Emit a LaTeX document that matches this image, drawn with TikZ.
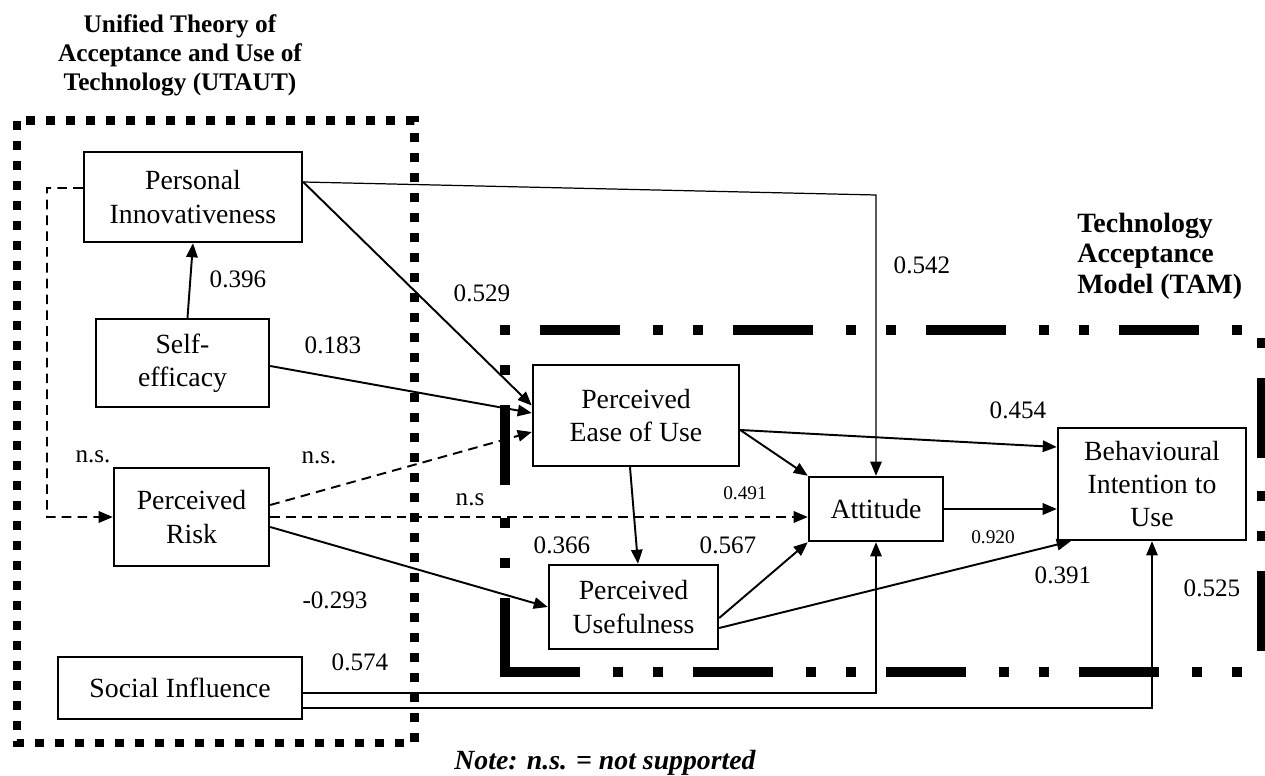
\documentclass[tikz,border=0pt]{standalone}
\usepackage{fontspec}
\setmainfont{Liberation Serif}
\usetikzlibrary{arrows.meta}

\begin{document}
\begin{tikzpicture}[x=0.02cm, y=-0.02cm,
box/.style={draw, rectangle, line width=1.4pt, align=center, inner sep=0pt, font=\fontsize{15.8}{18.8}\selectfont},
lbl/.style={inner sep=0pt, font=\fontsize{14.3}{16}\selectfont},
slbl/.style={inner sep=0pt, font=\fontsize{11}{12}\selectfont},
ttl/.style={inner sep=0pt, font=\bfseries\fontsize{14.4}{16.5}\selectfont},
arr/.style={-{Triangle[length=8pt,width=6.5pt]}, line width=1.1pt},
thinarr/.style={-{Triangle[length=8pt,width=6.5pt]}, line width=0.7pt},
nsarr/.style={arr, dash pattern=on 5.5pt off 3.5pt},
tamline/.style={line width=0.2cm, dash pattern=on 1.6cm off 0.66cm on 0.2cm off 0.6cm on 0.2cm off 0.6cm}]

\useasboundingbox (0,0) rectangle (1265,776);

% the two frames
\draw[line width=0.18cm, dash pattern=on 0.18cm off 0.22cm] (17,121) rectangle (414,743);
\draw[tamline, dash phase=3.06cm] (500,330) -- (1265,330);
\draw[tamline, dash phase=2.26cm] (505,325) -- (505,677);
\draw[tamline] (500,672) -- (1265,672);
\draw[tamline, dash phase=2.8cm] (1262,325) -- (1262,677);

\node[ttl, align=center] (utaut) at (180,55) {Unified Theory of\\Acceptance and Use of\\Technology (UTAUT)};
\node[ttl, align=left, anchor=west, font=\bfseries\fontsize{15.9}{17.4}\selectfont] (tam) at (1077,256) {Technology\\Acceptance\\Model (TAM)};

\node[box, minimum width=4.36cm, minimum height=1.8cm] (pi) at (193,197) {Personal\\Innovativeness};
\node[box, minimum width=3.46cm, minimum height=1.76cm] (se) at (182.5,363) {Self-\\efficacy};
\node[box, minimum width=3.1cm, minimum height=1.96cm] (pr) at (191.5,517) {Perceived\\Risk};
\node[box, minimum width=4.88cm, minimum height=1.24cm] (si) at (180,688) {Social Influence};
\node[box, minimum width=4.12cm, minimum height=2.02cm] (peou) at (636,415.5) {Perceived\\Ease of Use};
\node[box, minimum width=3.38cm, minimum height=1.68cm] (pu) at (633.5,607) {Perceived\\Usefulness};
\node[box, minimum width=2.68cm, minimum height=1.28cm] (att) at (876,509) {Attitude};
\node[box, minimum width=3.76cm, minimum height=2.24cm] (bi) at (1152,484) {Behavioural\\Intention to\\Use};

\coordinate (kneeA) at (876,195);
\coordinate (kneeB) at (47,188);

\draw[arr] ([xshift=0.1cm]se.north) -- (pi.south);
\draw[arr] ([yshift=0.3cm]pi.east) -- ([yshift=0.2cm]peou.west);
\draw[thinarr] ([yshift=0.3cm]pi.east) -- (kneeA) -- (att.north);
\draw[nsarr] ([yshift=0.18cm]pi.west) -- (kneeB) |- (pr.west);
\draw[arr] ([yshift=-0.06cm]se.east) -- ([yshift=0.05cm]peou.west);
\draw[nsarr] ([yshift=0.24cm]pr.east) -- ([yshift=-0.33cm]peou.west);
\draw[nsarr] (pr.east) -- (pr.east -| att.west);
\draw[arr] ([yshift=-0.2cm]pr.east) -- (pu.west);
\draw[arr] ([xshift=-0.12cm]peou.south) -- ([xshift=0.09cm]pu.north);
\draw[arr] ([yshift=-0.29cm]peou.east) -- (att.north west);
\draw[arr] ([yshift=-0.29cm]peou.east) -- ([yshift=0.74cm]bi.west);
\draw[arr] (att.east) -- (att.east -| bi.west);
\draw[arr] ([yshift=-0.22cm]pu.east) -- (att.south west);
\draw[arr] ([yshift=-0.42cm]pu.east) -- ([xshift=0.28cm]bi.south west);
\draw[thinarr] ([yshift=-0.1cm]si.east) -| (att.south);
\draw[thinarr] ([yshift=-0.4cm]si.east) -| (bi.south);

% path weights
\node[lbl] (wsepi) at (238,279) {0.396};
\node[lbl] (wpipeou) at (482,293) {0.529};
\node[lbl] (wsepeou) at (333,345) {0.183};
\node[lbl] (wpipr) at (93,457) {n.s.};
\node[lbl] (wprpeou) at (319,458) {n.s.};
\node[lbl] (wpratt) at (470,500) {n.s};
\node[slbl] (wpeouatt) at (745,493) {0.491};
\node[lbl] (wprpu) at (335,600) {-0.293};
\node[lbl] (wpeoupu) at (562,545) {0.366};
\node[lbl] (wpuatt) at (728,545) {0.567};
\node[lbl] (wsiatt) at (360,662) {0.574};
\node[lbl] (wpiatt) at (922,265) {0.542};
\node[lbl] (wpeoubi) at (1018,410) {0.454};
\node[slbl] (wattbi) at (993,537) {0.920};
\node[lbl] (wpubi) at (1063,575) {0.391};
\node[lbl] (wsibi) at (1212,588) {0.525};

\node[inner sep=0pt, font=\bfseries\itshape\fontsize{15.8}{18}\selectfont] (note) at (605,763) {Note: n.s. = not supported};

\end{tikzpicture}
\end{document}
